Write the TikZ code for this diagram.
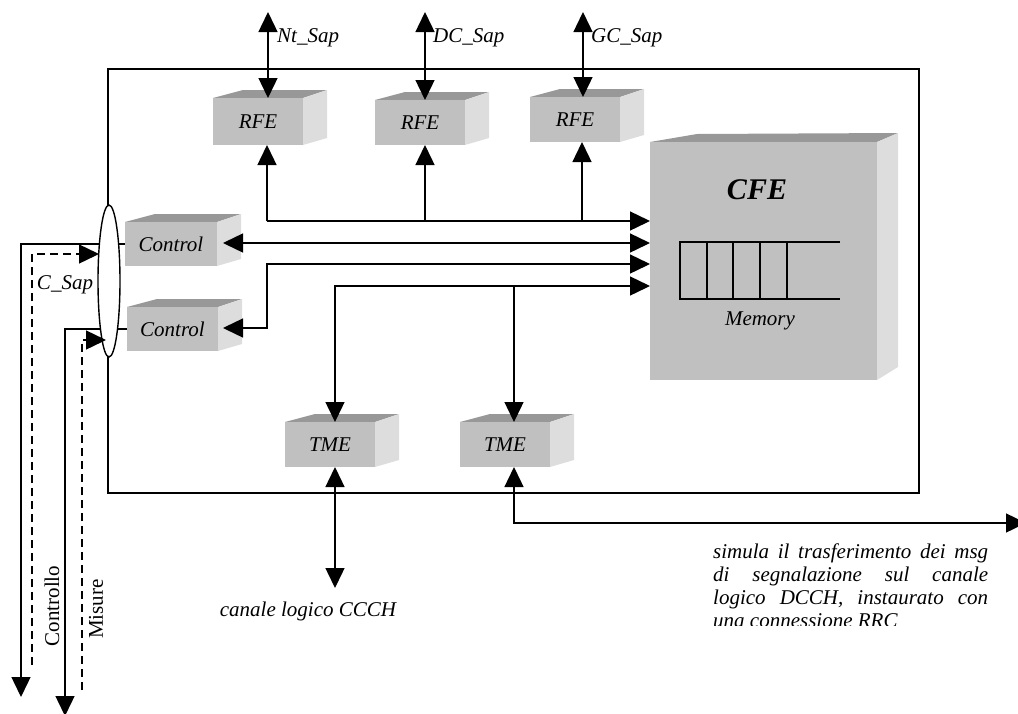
\documentclass[tikz,border=0pt]{standalone}
\usepackage{fontspec}
\setmainfont{Liberation Serif}
\usetikzlibrary{arrows.meta,shapes.geometric}

\definecolor{boxgray}{HTML}{C0C0C0}
\definecolor{topgray}{HTML}{989898}
\definecolor{sidegray}{HTML}{DDDDDD}

\tikzset{
  wire/.style={line width=1.4pt, draw=black},
  >={Triangle[length=20pt,width=19pt]},
  frontface/.style={fill=boxgray, inner sep=0pt, outer sep=0pt,
    font=\itshape\fontsize{21}{23}\selectfont},
  topface/.style={fill=topgray},
  sideface/.style={fill=sidegray},
  lbl/.style={inner sep=0pt, font=\itshape\fontsize{21}{23}\selectfont},
  uplbl/.style={inner sep=0pt, font=\fontsize{21}{23}\selectfont, rotate=90},
  dashline/.style={dash pattern=on 8pt off 5pt},
}

% 3D block: name, left, top, right, bottom, label
\newcommand{\threedbox}[6]{%
  \fill[topface] (#2,#3) -- (#2+30,#3-8) -- (#4+24,#3-8) -- (#4,#3) -- cycle;
  \fill[sideface] (#4,#3) -- (#4+24,#3-8) -- (#4+24,#5-7) -- (#4,#5) -- cycle;
  \node[frontface, minimum width={(#4-#2)*1pt}, minimum height={(#5-#3)*1pt}]
    (#1) at ({(#2+#4)/2},{(#3+#5)/2}) {#6};
}

\begin{document}
\begin{tikzpicture}[x=1pt,y=-1pt]
\useasboundingbox (0,0) rectangle (1018,713);

% outer frame of the module
\draw[wire] (108,69) rectangle (919,493);

% functional entities
\threedbox{r1}{213}{98}{303}{145}{RFE}
\threedbox{r2}{375}{100}{465}{145}{RFE}
\threedbox{r3}{530}{97}{620}{142}{RFE}
\threedbox{c1}{125}{222}{217}{266}{Control}
\threedbox{c2}{127}{307}{218}{351}{Control}
\threedbox{t1}{285}{422}{375}{467}{TME}
\threedbox{t2}{460}{422}{550}{467}{TME}

% central entity with its memory queue
\fill[topface] (650,142) -- (697,134) -- (898,133) -- (877,142) -- cycle;
\fill[sideface] (877,142) -- (898,133) -- (898,367) -- (877,380) -- cycle;
\node[frontface, minimum width=227pt, minimum height=238pt] (cfe) at (763.5,261) {};
\node[inner sep=0pt, font=\bfseries\itshape\fontsize{30}{34}\selectfont] (cfelbl) at (757,190) {CFE};
\draw[line width=1.2pt] (840,242) -- (680,242) -- (680,299) -- (840,299);
\foreach \qx in {707,733,760,787} \draw[line width=1.2pt] (\qx,242) -- (\qx,299);
\node[lbl] (memlbl) at (760,321) {Memory};

% service access points on top
\coordinate (s1) at (268,12);
\coordinate (s2) at (425,12);
\coordinate (s3) at (583,12);
\draw[wire,<->] (s1) -- (s1 |- r1.north);
\draw[wire,<->] (s2) -- (s2 |- r2.north);
\draw[wire,<->] (s3) -- (s3 |- r3.north);
\node[lbl, anchor=west] (ntsap) at (277,38) {Nt\_Sap};
\node[lbl, anchor=west] (dcsap) at (433,38) {DC\_Sap};
\node[lbl, anchor=west] (gcsap) at (591,38) {GC\_Sap};

% RFE bus towards the CFE
\coordinate (bus1) at (267,221);
\coordinate (bus2) at (425,221);
\coordinate (bus3) at (582,221);
\draw[wire,->] (bus1) -- (bus1 -| cfe.west);
\draw[wire,->] (bus1) -- (bus1 |- r1.south);
\draw[wire,->] (bus2) -- (bus2 |- r2.south);
\draw[wire,->] (bus3) -- (bus3 |- r3.south);

% control links
\coordinate (ct1) at (223,243);
\draw[wire,<->] (ct1) -- (ct1 -| cfe.west);
\coordinate (ct2) at (223,328);
\coordinate (bend2) at (267,264);
\draw[wire,<->] (ct2) -| (bend2) -- (bend2 -| cfe.west);

% TME links
\coordinate (tm1) at (335,286);
\coordinate (tm2) at (514,286);
\draw[wire,<->] (tm1 |- t1.north) -- (tm1) -- (tm1 -| cfe.west);
\draw[wire,->] (tm2) -- (tm2 |- t2.north);

\coordinate (ccch) at (335,588);
\draw[wire,<->] (ccch |- t1.south) -- (ccch);
\node[lbl] (ccchlbl) at (308,611) {canale logico CCCH};

\coordinate (dbend) at (514,523);
\coordinate (dcch) at (1026,523);
\draw[wire,<->] (dbend |- t2.south) -- (dbend) -- (dcch);

\begin{scope}
  \clip (700,528) rectangle (1000,625);
  \node[lbl, anchor=north west, text width=275pt, align=justify] (desc) at (713,544)
    {\hyphenpenalty=10000 simula il trasferimento dei msg\linebreak di segnalazione sul canale\linebreak logico DCCH, instaurato con\linebreak una connessione RRC};
\end{scope}

% control service access point on the left
\coordinate (ctrlout) at (21,697);
\coordinate (misout) at (65,716);
\draw[wire,->] (c1.west) -| (ctrlout);
\draw[wire,->] (c2.west) -| (misout);
\node[draw, ellipse, fill=white, line width=1.4pt, minimum width=22pt,
      minimum height=152pt, inner sep=0pt] (csap) at (109,281) {};
\coordinate (cstart) at (32,665);
\coordinate (cin) at (99,254);
\draw[wire,dashline,->] (cstart) |- (cin);
\coordinate (mstart) at (82,690);
\coordinate (min) at (106,340);
\draw[wire,dashline,->] (mstart) |- (min);
\node[lbl] (csaplbl) at (65,285) {C\_Sap};
\node[uplbl] (ctrllbl) at (52,606) {Controllo};
\node[uplbl] (mislbl) at (96,609) {Misure};
\end{tikzpicture}
\end{document}
